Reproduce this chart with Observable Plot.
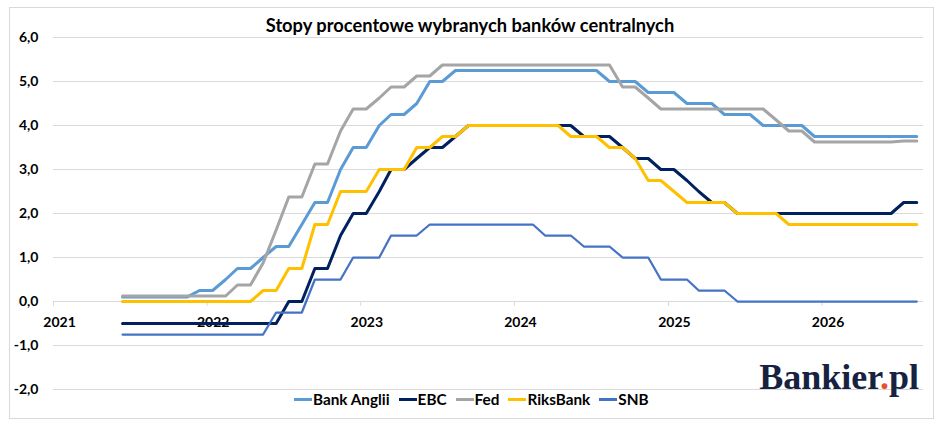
<!DOCTYPE html>
<html>
<head>
<meta charset="utf-8">
<script src="https://cdn.jsdelivr.net/npm/d3@7"></script>
<script src="https://cdn.jsdelivr.net/npm/@observablehq/plot@0.6"></script>
<style>
  html, body { margin: 0; padding: 0; background: #fff; }
  #wrap { position: relative; width: 948px; height: 427px; overflow: hidden; font-family: Lato, "Open Sans", sans-serif; }
  #frame { position: absolute; left: 9px; top: 7px; width: 925px; height: 412px; border: 1px solid #d9d9d9; box-sizing: border-box; }
  #chart { position: absolute; left: 0; top: 0; }
  #title { position: absolute; left: 0; width: 940px; top: 16px; text-align: center; font-weight: bold; font-size: 18.3px; line-height: 1; color: #000; white-space: nowrap; }
  #legend { position: absolute; left: 294px; top: 391px; display: flex; align-items: center; font-weight: bold; font-size: 15.3px; line-height: 16px; color: #000; white-space: nowrap; }
  #legend .item { display: flex; align-items: center; margin-right: 9px; }
  #legend .sw { width: 18px; height: 3px; margin-right: 1px; }
  #logo { position: absolute; right: 29px; top: 359px; font-family: "Liberation Serif", serif; font-weight: bold; font-size: 36px; line-height: 1; color: #16223f; letter-spacing: 0px; }
  #logo .dot { color: #e8502a; }
</style>
</head>
<body>
<div id="wrap">
  <div id="frame"></div>
  <div id="chart"></div>
  <div id="title">Stopy procentowe wybranych banków centralnych</div>
  <div id="legend"></div>
  <div id="logo">Bankier<span class="dot">.</span>pl</div>
</div>
<script>
// Monthly observations, June 2021 – August 2026
const firstMonth = "2021-06";
const lastMonth = "2026-08";

const seriesNames = ["Bank Anglii", "EBC", "Fed", "RiksBank", "SNB"];
const seriesColors = ["#5B9BD5", "#002060", "#A5A5A5", "#FFC000", "#4472C4"];
const seriesWidths = [3, 3, 3, 3, 2.25];

const bankAnglii = [
  0.1, 0.1, 0.1, 0.1, 0.1, 0.1, 0.25, 0.25, 0.5, 0.75, 0.75, 1.0, 1.25, 1.25, 1.75, 2.25,
  2.25, 3.0, 3.5, 3.5, 4.0, 4.25, 4.25, 4.5, 5.0, 5.0, 5.25, 5.25, 5.25, 5.25, 5.25, 5.25,
  5.25, 5.25, 5.25, 5.25, 5.25, 5.25, 5.0, 5.0, 5.0, 4.75, 4.75, 4.75, 4.5, 4.5, 4.5, 4.25,
  4.25, 4.25, 4.0, 4.0, 4.0, 4.0, 3.75, 3.75, 3.75, 3.75, 3.75, 3.75, 3.75, 3.75, 3.75
];
const ebc = [
  -0.5, -0.5, -0.5, -0.5, -0.5, -0.5, -0.5, -0.5, -0.5, -0.5, -0.5, -0.5, -0.5, 0, 0, 0.75,
  0.75, 1.5, 2.0, 2.0, 2.5, 3.0, 3.0, 3.25, 3.5, 3.5, 3.75, 4.0, 4.0, 4.0, 4.0, 4.0,
  4.0, 4.0, 4.0, 4.0, 3.75, 3.75, 3.75, 3.5, 3.25, 3.25, 3.0, 3.0, 2.75, 2.5, 2.25, 2.25,
  2.0, 2.0, 2.0, 2.0, 2.0, 2.0, 2.0, 2.0, 2.0, 2.0, 2.0, 2.0, 2.0, 2.25, 2.25
];
const fed = [
  0.125, 0.125, 0.125, 0.125, 0.125, 0.125, 0.125, 0.125, 0.125, 0.375, 0.375, 0.875, 1.625, 2.375, 2.375, 3.125,
  3.125, 3.875, 4.375, 4.375, 4.625, 4.875, 4.875, 5.125, 5.125, 5.375, 5.375, 5.375, 5.375, 5.375, 5.375, 5.375,
  5.375, 5.375, 5.375, 5.375, 5.375, 5.375, 5.375, 4.875, 4.875, 4.625, 4.375, 4.375, 4.375, 4.375, 4.375, 4.375,
  4.375, 4.375, 4.375, 4.125, 3.875, 3.875, 3.625, 3.625, 3.625, 3.625, 3.625, 3.625, 3.625, 3.65, 3.65
];
const riksbank = [
  0, 0, 0, 0, 0, 0, 0, 0, 0, 0, 0, 0.25, 0.25, 0.75, 0.75, 1.75,
  1.75, 2.5, 2.5, 2.5, 3.0, 3.0, 3.0, 3.5, 3.5, 3.75, 3.75, 4.0, 4.0, 4.0, 4.0, 4.0,
  4.0, 4.0, 4.0, 3.75, 3.75, 3.75, 3.5, 3.5, 3.25, 2.75, 2.75, 2.5, 2.25, 2.25, 2.25, 2.25,
  2.0, 2.0, 2.0, 2.0, 1.75, 1.75, 1.75, 1.75, 1.75, 1.75, 1.75, 1.75, 1.75, 1.75, 1.75
];
const snb = [
  -0.75, -0.75, -0.75, -0.75, -0.75, -0.75, -0.75, -0.75, -0.75, -0.75, -0.75, -0.75, -0.25, -0.25, -0.25, 0.5,
  0.5, 0.5, 1.0, 1.0, 1.0, 1.5, 1.5, 1.5, 1.75, 1.75, 1.75, 1.75, 1.75, 1.75, 1.75, 1.75,
  1.75, 1.5, 1.5, 1.5, 1.25, 1.25, 1.25, 1.0, 1.0, 1.0, 0.5, 0.5, 0.5, 0.25, 0.25, 0.25,
  0, 0, 0, 0, 0, 0, 0, 0, 0, 0, 0, 0, 0, 0, 0
];

const yTicks = [-2, -1, 0, 1, 2, 3, 4, 5, 6];
const yearLabels = ["2021", "2022", "2023", "2024", "2025", "2026"];

// ---- build table ----
const parseMonth = s => { const [y, m] = s.split("-").map(Number); return new Date(Date.UTC(y, m - 1, 1)); };
const monthStarts = d3.utcMonth.range(parseMonth(firstMonth), d3.utcMonth.offset(parseMonth(lastMonth), 1));
const dates = monthStarts.map(d => new Date(Date.UTC(d.getUTCFullYear(), d.getUTCMonth(), 14)));
const allValues = [bankAnglii, ebc, fed, riksbank, snb];
const table = seriesNames.flatMap((name, s) => allValues[s].map((v, i) => ({series: name, date: dates[i], value: v})));
const yearTicks = yearLabels.map(y => new Date(Date.UTC(+y, 0, 1)));

const fmt = d => d.toFixed(1).replace(".", ",");

const lineMarks = seriesNames.map((name, s) =>
  Plot.line(table.filter(d => d.series === name), {
    x: "date", y: "value", stroke: seriesColors[s], strokeWidth: seriesWidths[s], strokeLinejoin: "round"
  })
);

const chart = Plot.plot({
  width: 948,
  height: 427,
  marginLeft: 53,
  marginRight: 25,
  marginTop: 37,
  marginBottom: 38,
  style: {fontFamily: "Lato, 'Open Sans', sans-serif", fontSize: "14px", fontWeight: "bold", color: "#000", background: "transparent"},
  x: {type: "utc", domain: [new Date(Date.UTC(2021, 0, 1)), new Date(Date.UTC(2026, 7, 30))], axis: null},
  y: {domain: [-2, 6], axis: null},
  marks: [
    Plot.gridY(yTicks, {stroke: "#d9d9d9", strokeOpacity: 1, strokeWidth: 1}),
    Plot.ruleX(yearTicks, {x: d => d, y1: 0, y2: 0, insetBottom: -5, stroke: "#d9d9d9", strokeWidth: 1}),
    Plot.axisY(yTicks, {tickSize: 0, tickPadding: 15, tickFormat: fmt, fontSize: 14, fontWeight: "bold", label: null}),
    Plot.text(yearTicks, {x: d => d, y: 0, dy: 21, dx: 6, text: (d, i) => yearLabels[i], fontSize: 14, fontWeight: "bold", fill: "#000"}),
    ...lineMarks
  ]
});
document.getElementById("chart").appendChild(chart);

// legend
const legend = document.getElementById("legend");
seriesNames.forEach((name, s) => {
  const item = document.createElement("div");
  item.className = "item";
  const sw = document.createElement("span");
  sw.className = "sw";
  sw.style.background = seriesColors[s];
  const tx = document.createElement("span");
  tx.textContent = name;
  item.appendChild(sw);
  item.appendChild(tx);
  legend.appendChild(item);
});
</script>
</body>
</html>
